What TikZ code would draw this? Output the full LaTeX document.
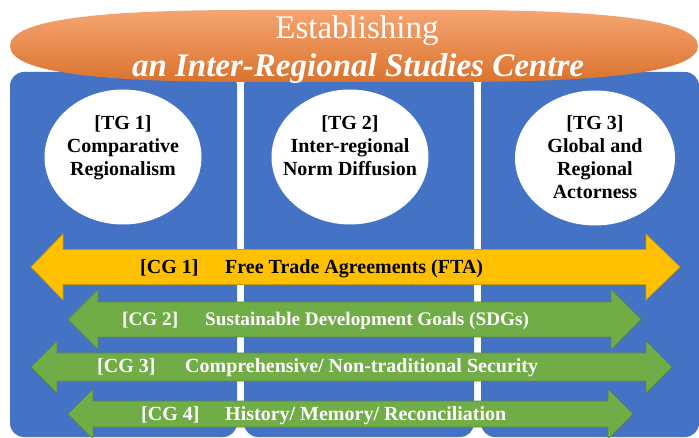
\documentclass[tikz,border=0pt]{standalone}
\usepackage{fontspec}
\setmainfont{Liberation Serif}
\usetikzlibrary{shapes.geometric}
\definecolor{colblue}{RGB}{68,114,196}
\definecolor{gold}{RGB}{255,192,0}
\definecolor{leaf}{RGB}{112,173,71}
\definecolor{orng}{RGB}{237,125,49}
\definecolor{orngl}{RGB}{245,165,115}
\begin{document}
\begin{tikzpicture}[x=1pt,y=-1pt,
  column/.style={fill=colblue, rounded corners=14pt},
  topicgroup/.style={ellipse, fill=white, inner sep=0, minimum width=157, minimum height=135},
  tgtext/.style={font=\fontsize{20}{23}\selectfont\bfseries, align=center, inner sep=0, anchor=base},
  arrgold/.style={fill=gold, draw=gold!80!black, line width=0.6pt, line join=miter},
  arrgreen/.style={fill=leaf, draw=leaf!80!black, line width=0.6pt, line join=miter},
  cgdark/.style={font=\fontsize{20}{22}\selectfont\bfseries, anchor=base west, inner sep=0, text=black},
  cglight/.style={font=\fontsize{20}{22}\selectfont\bfseries, anchor=base west, inner sep=0, text=white},
  titlea/.style={font=\fontsize{33}{36}\selectfont, text=white, inner sep=0, anchor=base},
  titleb/.style={font=\fontsize{33}{36}\selectfont\bfseries\itshape, text=white, inner sep=0, anchor=base}]
\useasboundingbox (0,0) rectangle (699,438);
\fill[white] (0,0) rectangle (699,438);
% columns
\fill[column] (10,72) rectangle (237,437);
\fill[column] (244,72) rectangle (474,437);
\fill[column] (481,72) rectangle (699,437);
% title banner
\shade[top color=orngl, middle color=orng, bottom color=orng!92!black]
  (10,46) .. controls (10,18) and (110,10) .. (250,10) -- (450,10)
  .. controls (590,10) and (698,18) .. (698,46)
  .. controls (698,74) and (590,82) .. (450,82) -- (250,82)
  .. controls (110,82) and (10,74) .. (10,46) -- cycle;
\node[titlea] (t1) at (357,39) {Establishing};
\node[titleb] (t2) at (358,77) {an Inter-Regional Studies Centre};
% topic groups
\node[topicgroup] (tg1) at (123,157) {};
\node[topicgroup] (tg2) at (350,157) {};
\node[topicgroup, minimum width=160] (tg3) at (595,158) {};
\node[tgtext] (tg1t) at (123,176) {[TG 1]\\Comparative\\Regionalism};
\node[tgtext] (tg2t) at (350,176) {[TG 2]\\Inter-regional\\Norm Diffusion};
\node[tgtext] (tg3t) at (595,199) {[TG 3]\\Global and\\Regional\\Actorness};
% cross-cutting arrows
\path[arrgold] (31,267) -- (63,234) -- (63,249.5) -- (646,249.5) -- (646,234) -- (680,267) -- (646,300) -- (646,284.5) -- (63,284.5) -- (63,300) -- cycle;
\path[arrgreen] (68,319.5) -- (98,289.5) -- (98,302) -- (611,302) -- (611,289.5) -- (641,319.5) -- (611,349.5) -- (611,337) -- (98,337) -- (98,349.5) -- cycle;
\path[arrgreen] (31,367) -- (57,341) -- (57,353) -- (646,353) -- (646,341) -- (672,367) -- (646,393) -- (646,381) -- (57,381) -- (57,393) -- cycle;
\path[arrgreen] (68,414) -- (93,389) -- (93,401) -- (608,401) -- (608,389) -- (633,414) -- (608,439) -- (608,427) -- (93,427) -- (93,439) -- cycle;
% labels
\node[cgdark] (cg1a) at (140,274) {[CG 1]};
\node[cgdark] (cg1b) at (225,274) {Free Trade Agreements (FTA)};
\node[cglight, font=\fontsize{19.2}{22}\selectfont\bfseries] (cg2a) at (122,326) {[CG 2]};
\node[cglight, font=\fontsize{19.2}{22}\selectfont\bfseries] (cg2b) at (205,326) {Sustainable Development Goals (SDGs)};
\node[cglight] (cg3a) at (97,373) {[CG 3]};
\node[cglight] (cg3b) at (185,373) {Comprehensive/ Non-traditional Security};
\node[cglight] (cg4a) at (141,420) {[CG 4]};
\node[cglight] (cg4b) at (225,420) {History/ Memory/ Reconciliation};
\end{tikzpicture}
\end{document}
